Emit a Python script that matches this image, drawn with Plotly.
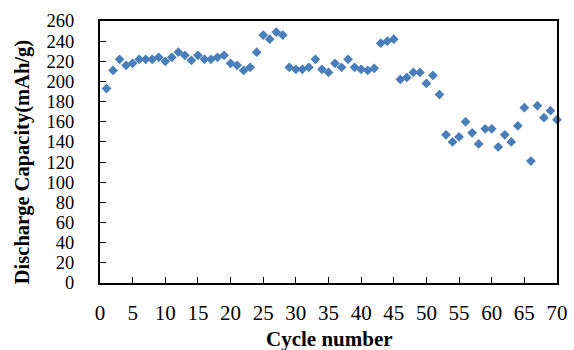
import plotly.graph_objects as go

cycles = list(range(1, 71))
capacity = [193, 211, 222, 216, 218, 222, 222, 222, 224, 220,
            224, 229, 226, 221, 226, 222, 222, 224, 226, 218,
            216, 211, 214, 229, 246, 242, 249, 246, 214, 212,
            212, 214, 222, 212, 209, 218, 214, 222, 214, 212,
            211, 213, 238, 240, 242, 202, 204, 209, 209, 198,
            206, 187, 147, 140, 145, 160, 149, 138, 153, 153,
            135, 147, 140, 156, 174, 121, 176, 164, 171, 162]

x_ticks = list(range(0, 71, 5))
y_ticks = list(range(0, 261, 20))

font_family = "Liberation Serif, Times New Roman, serif"

fig = go.Figure()
fig.add_trace(go.Scatter(
    x=cycles, y=capacity, mode="markers",
    marker=dict(symbol="diamond", size=7.5, color="#4A7EBB",
                line=dict(width=0)),
    showlegend=False, cliponaxis=False,
))

fig.update_layout(
    width=574, height=350,
    margin=dict(l=100, r=17, t=21, b=67, autoexpand=False),
    paper_bgcolor="white", plot_bgcolor="white",
    font=dict(family=font_family, color="black", size=21),
    annotations=[
        dict(text="<b>Discharge Capacity(mAh/g)</b>", xref="paper", yref="paper",
             x=-0.168, y=0.462, xanchor="center", yanchor="middle",
             textangle=-90, showarrow=False, font=dict(size=20.5)),
        dict(text="<b>Cycle number</b>", xref="paper", yref="paper",
             x=0.502, y=-0.214, xanchor="center", yanchor="middle",
             showarrow=False, font=dict(size=21)),
    ],
)
fig.update_xaxes(
    range=[0, 70], tickvals=x_ticks, ticktext=[str(v) for v in x_ticks],
    ticks="inside", ticklen=6, tickcolor="black", tickwidth=1,
    showline=True, linecolor="black", linewidth=2, mirror=True,
    showgrid=False, zeroline=False, automargin=False,
    tickfont=dict(size=21), ticklabelstandoff=10,
)
fig.update_yaxes(
    range=[0, 260], tickvals=y_ticks, ticktext=[str(v) for v in y_ticks],
    ticks="inside", ticklen=6, tickcolor="black", tickwidth=1,
    showline=True, linecolor="black", linewidth=2, mirror=True,
    showgrid=False, zeroline=False, automargin=False,
    tickfont=dict(size=18.5), ticklabelstandoff=20,
)

fig.write_html("out.html", config={"displayModeBar": False},
               post_script="document.body.style.margin='0';")
